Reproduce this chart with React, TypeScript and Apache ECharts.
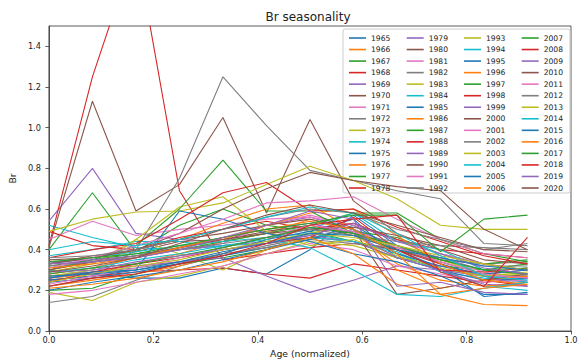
import React, { useEffect, useRef } from "react";
import * as echarts from "echarts";

const ages = [0, 0.0833, 0.1667, 0.25, 0.3333, 0.4167, 0.5, 0.5833, 0.6667, 0.75, 0.8333, 0.9167];

const years = [
  1965, 1966, 1967, 1968, 1969, 1970, 1971, 1972, 1973, 1974, 1975, 1976, 1977, 1978,
  1979, 1980, 1981, 1982, 1983, 1984, 1985, 1986, 1987, 1988, 1989, 1990, 1991, 1992,
  1993, 1994, 1995, 1996, 1997, 1998, 1999, 2000, 2001, 2002, 2003, 2004, 2005, 2006,
  2007, 2008, 2009, 2010, 2011, 2012, 2013, 2014, 2015, 2016, 2017, 2018, 2019, 2020,
];

const brValues: number[][] = [
  [0.30, 0.28, 0.26, 0.26, 0.31, 0.28, 0.40, 0.57, 0.42, 0.33, 0.27, 0.24], // 1965
  [0.26, 0.28, 0.33, 0.38, 0.44, 0.48, 0.55, 0.50, 0.40, 0.30, 0.22, 0.24], // 1966
  [0.40, 0.68, 0.39, 0.52, 0.60, 0.52, 0.49, 0.44, 0.36, 0.32, 0.30, 0.33], // 1967
  [0.25, 0.27, 0.29, 0.30, 0.31, 0.28, 0.26, 0.33, 0.30, 0.27, 0.24, 0.26], // 1968
  [0.54, 0.80, 0.48, 0.45, 0.44, 0.52, 0.56, 0.50, 0.42, 0.36, 0.30, 0.28], // 1969
  [0.33, 0.37, 0.39, 0.44, 0.45, 0.49, 0.52, 0.47, 0.40, 0.34, 0.28, 0.30], // 1970
  [0.28, 0.31, 0.36, 0.40, 0.43, 0.52, 0.57, 0.52, 0.45, 0.35, 0.29, 0.26], // 1971
  [0.14, 0.17, 0.25, 0.32, 0.37, 0.42, 0.46, 0.44, 0.40, 0.35, 0.33, 0.34], // 1972
  [0.29, 0.33, 0.45, 0.38, 0.30, 0.40, 0.48, 0.53, 0.45, 0.35, 0.28, 0.27], // 1973
  [0.52, 0.46, 0.41, 0.40, 0.42, 0.43, 0.46, 0.44, 0.38, 0.30, 0.22, 0.20], // 1974
  [0.25, 0.27, 0.30, 0.33, 0.37, 0.41, 0.45, 0.52, 0.40, 0.31, 0.17, 0.19], // 1975
  [0.22, 0.25, 0.28, 0.32, 0.38, 0.45, 0.52, 0.48, 0.33, 0.25, 0.22, 0.24], // 1976
  [0.20, 0.21, 0.28, 0.33, 0.36, 0.40, 0.46, 0.49, 0.46, 0.38, 0.33, 0.35], // 1977
  [0.42, 1.25, 1.89, 0.69, 0.35, 0.38, 0.41, 0.43, 0.40, 0.33, 0.25, 0.22], // 1978
  [0.31, 0.34, 0.36, 0.40, 0.42, 0.44, 0.47, 0.44, 0.36, 0.32, 0.27, 0.27], // 1979
  [0.41, 1.13, 0.59, 0.72, 1.05, 0.58, 1.04, 0.64, 0.48, 0.40, 0.33, 0.30], // 1980
  [0.45, 0.54, 0.47, 0.50, 0.52, 0.55, 0.56, 0.52, 0.45, 0.38, 0.33, 0.30], // 1981
  [0.27, 0.29, 0.31, 0.34, 0.38, 0.41, 0.45, 0.43, 0.41, 0.36, 0.32, 0.32], // 1982
  [0.19, 0.15, 0.24, 0.27, 0.32, 0.38, 0.44, 0.42, 0.36, 0.30, 0.27, 0.28], // 1983
  [0.37, 0.40, 0.44, 0.44, 0.41, 0.46, 0.48, 0.44, 0.39, 0.29, 0.26, 0.24], // 1984
  [0.24, 0.26, 0.29, 0.33, 0.38, 0.45, 0.49, 0.55, 0.36, 0.30, 0.25, 0.26], // 1985
  [0.30, 0.34, 0.40, 0.45, 0.53, 0.60, 0.62, 0.50, 0.30, 0.21, 0.25, 0.27], // 1986
  [0.32, 0.35, 0.38, 0.40, 0.44, 0.48, 0.52, 0.58, 0.58, 0.45, 0.38, 0.34], // 1987
  [0.49, 0.42, 0.40, 0.46, 0.50, 0.54, 0.50, 0.53, 0.45, 0.40, 0.38, 0.36], // 1988
  [0.26, 0.30, 0.32, 0.34, 0.36, 0.27, 0.19, 0.25, 0.32, 0.30, 0.27, 0.22], // 1989
  [0.35, 0.36, 0.40, 0.45, 0.48, 0.52, 0.55, 0.50, 0.18, 0.21, 0.25, 0.28], // 1990
  [0.18, 0.20, 0.24, 0.28, 0.32, 0.38, 0.43, 0.40, 0.32, 0.28, 0.24, 0.25], // 1991
  [0.22, 0.26, 0.40, 0.75, 1.25, 1.01, 0.79, 0.74, 0.69, 0.65, 0.43, 0.42], // 1992
  [0.27, 0.30, 0.45, 0.61, 0.66, 0.49, 0.42, 0.45, 0.37, 0.31, 0.27, 0.29], // 1993
  [0.33, 0.36, 0.39, 0.42, 0.44, 0.46, 0.50, 0.58, 0.44, 0.40, 0.30, 0.28], // 1994
  [0.20, 0.24, 0.27, 0.30, 0.35, 0.40, 0.45, 0.50, 0.38, 0.32, 0.28, 0.30], // 1995
  [0.28, 0.31, 0.36, 0.41, 0.45, 0.52, 0.58, 0.60, 0.47, 0.33, 0.25, 0.23], // 1996
  [0.30, 0.35, 0.42, 0.60, 0.84, 0.59, 0.59, 0.48, 0.40, 0.35, 0.30, 0.28], // 1997
  [0.24, 0.29, 0.33, 0.36, 0.40, 0.43, 0.46, 0.56, 0.40, 0.30, 0.29, 0.31], // 1998
  [0.34, 0.35, 0.37, 0.41, 0.46, 0.50, 0.53, 0.48, 0.36, 0.30, 0.23, 0.22], // 1999
  [0.30, 0.34, 0.37, 0.41, 0.45, 0.48, 0.50, 0.51, 0.47, 0.42, 0.35, 0.33], // 2000
  [0.23, 0.27, 0.31, 0.36, 0.41, 0.46, 0.52, 0.49, 0.41, 0.34, 0.28, 0.26], // 2001
  [0.32, 0.34, 0.37, 0.40, 0.43, 0.46, 0.50, 0.47, 0.44, 0.42, 0.41, 0.40], // 2002
  [0.49, 0.55, 0.585, 0.59, 0.63, 0.72, 0.81, 0.74, 0.65, 0.52, 0.50, 0.50], // 2003
  [0.29, 0.31, 0.35, 0.38, 0.42, 0.45, 0.41, 0.30, 0.18, 0.17, 0.21, 0.24], // 2004
  [0.26, 0.29, 0.30, 0.59, 0.55, 0.48, 0.44, 0.38, 0.34, 0.27, 0.18, 0.18], // 2005
  [0.21, 0.23, 0.26, 0.30, 0.34, 0.40, 0.46, 0.38, 0.23, 0.18, 0.21, 0.23], // 2006
  [0.28, 0.31, 0.33, 0.37, 0.41, 0.46, 0.51, 0.48, 0.42, 0.35, 0.30, 0.31], // 2007
  [0.36, 0.40, 0.43, 0.55, 0.68, 0.73, 0.59, 0.60, 0.51, 0.44, 0.37, 0.33], // 2008
  [0.29, 0.30, 0.34, 0.37, 0.40, 0.43, 0.47, 0.53, 0.44, 0.38, 0.31, 0.28], // 2009
  [0.33, 0.36, 0.40, 0.48, 0.60, 0.70, 0.78, 0.74, 0.71, 0.69, 0.50, 0.40], // 2010
  [0.31, 0.36, 0.42, 0.48, 0.55, 0.63, 0.64, 0.66, 0.55, 0.45, 0.38, 0.36], // 2011
  [0.36, 0.37, 0.40, 0.45, 0.50, 0.56, 0.60, 0.58, 0.50, 0.45, 0.40, 0.43], // 2012
  [0.24, 0.28, 0.32, 0.35, 0.40, 0.44, 0.48, 0.46, 0.42, 0.37, 0.33, 0.30], // 2013
  [0.40, 0.44, 0.42, 0.45, 0.50, 0.56, 0.61, 0.58, 0.48, 0.37, 0.27, 0.25], // 2014
  [0.27, 0.28, 0.30, 0.34, 0.39, 0.43, 0.48, 0.47, 0.40, 0.36, 0.32, 0.30], // 2015
  [0.31, 0.33, 0.36, 0.41, 0.46, 0.50, 0.54, 0.50, 0.38, 0.18, 0.13, 0.125], // 2016
  [0.34, 0.36, 0.38, 0.42, 0.46, 0.50, 0.53, 0.57, 0.57, 0.39, 0.55, 0.57], // 2017
  [0.22, 0.26, 0.28, 0.33, 0.37, 0.43, 0.52, 0.55, 0.57, 0.29, 0.22, 0.46], // 2018
  [0.33, 0.34, 0.36, 0.40, 0.46, 0.52, 0.59, 0.55, 0.22, 0.24, 0.19, 0.18], // 2019
  [0.29, 0.32, 0.36, 0.43, 0.50, 0.57, 0.62, 0.58, 0.52, 0.46, 0.40, 0.39], // 2020
];

const palette = [
  "#1f77b4", "#ff7f0e", "#2ca02c", "#d62728", "#9467bd",
  "#8c564b", "#e377c2", "#7f7f7f", "#bcbd22", "#17becf",
];

const legendColumnsX = [349, 406.7, 464, 521.7];
const FONT = "DejaVu Sans";

export default function App() {
  const ref = useRef<HTMLDivElement>(null);
  useEffect(() => {
    if (!ref.current) return;
    const chart = echarts.init(ref.current, null, { renderer: "svg" });
    const series = years.map((y, i) => ({
      type: "line",
      name: String(y),
      data: ages.map((a, k) => [a, brValues[i][k]]),
      symbol: "none",
      showSymbol: false,
      lineStyle: { width: 1.1, color: palette[i % 10] },
      itemStyle: { color: palette[i % 10] },
      clip: true,
    }));
    const legends = legendColumnsX.map((x, c) => ({
      orient: "vertical",
      left: x,
      top: 33,
      padding: 0,
      itemGap: 1.54,
      itemWidth: 17,
      itemHeight: 1.6,
      icon: "rect",
      selectedMode: false,
      data: years.slice(c * 14, c * 14 + 14).map(String),
      textStyle: { fontSize: 7.6, lineHeight: 10, color: "#222", fontFamily: FONT },
    }));
    chart.setOption({
      animation: false,
      color: palette,
      textStyle: { fontFamily: FONT },
      grid: {
        left: 46,
        right: 14,
        top: 26,
        bottom: 29,
        show: true,
        borderColor: "#333",
        borderWidth: 0.8,
        containLabel: false,
      },
      xAxis: {
        type: "value",
        min: 0,
        max: 1,
        interval: 0.2,
        name: "Age (normalized)",
        nameLocation: "middle",
        nameGap: 18,
        nameTextStyle: { fontSize: 9.3, color: "#222", fontFamily: FONT },
        axisLine: { show: true, lineStyle: { color: "#333", width: 0.8 } },
        axisTick: { show: true, length: 3.5, lineStyle: { color: "#333", width: 0.8 } },
        axisLabel: {
          fontSize: 8.2,
          color: "#222",
          margin: 5,
          fontFamily: FONT,
          formatter: (v: number) => v.toFixed(1),
        },
        splitLine: { show: false },
      },
      yAxis: {
        type: "value",
        min: 0,
        max: 1.5,
        interval: 0.2,
        name: "Br",
        nameLocation: "middle",
        nameGap: 28,
        nameTextStyle: { fontSize: 9.3, color: "#222", fontFamily: FONT },
        axisLine: { show: true, lineStyle: { color: "#333", width: 0.8 } },
        axisTick: { show: true, length: 3.5, lineStyle: { color: "#333", width: 0.8 } },
        axisLabel: {
          fontSize: 8.2,
          color: "#222",
          margin: 8,
          fontFamily: FONT,
          showMaxLabel: false,
          formatter: (v: number) => v.toFixed(1),
        },
        splitLine: { show: false },
      },
      legend: legends,
      graphic: {
        elements: [
          {
            type: "rect",
            z: 3,
            shape: { x: 343, y: 29, width: 227, height: 164, r: 2 },
            style: { fill: "rgba(255,255,255,0.8)", stroke: "#cccccc", lineWidth: 1 },
          },
          {
            type: "text",
            z: 5,
            x: 308,
            y: 17,
            style: {
              text: "Br seasonality",
              fontSize: 12,
              fontFamily: FONT,
              fill: "#222",
              align: "center",
              verticalAlign: "middle",
            },
          },
        ],
      },
      series,
    });
    return () => chart.dispose();
  }, []);
  return (
    <div
      ref={ref}
      style={{ position: "fixed", left: 0, top: 0, width: 585, height: 363, background: "#fff" }}
    />
  );
}
